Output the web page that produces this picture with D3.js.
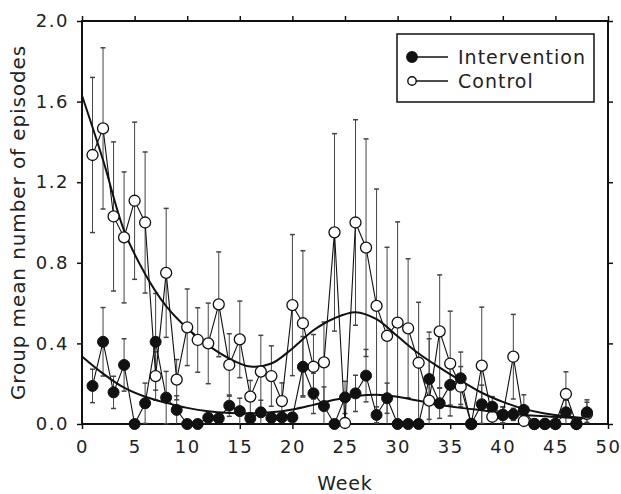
<!DOCTYPE html>
<html>
<head>
<meta charset="utf-8">
<script src="https://cdn.jsdelivr.net/npm/d3@7/dist/d3.min.js"></script>
<style>
  html, body { margin: 0; padding: 0; background: #fff; }
  svg { display: block; }
  text { font-family: "DejaVu Sans", sans-serif; fill: #222; }
</style>
</head>
<body>
<svg id="chart" width="621" height="494"></svg>
<script>
// ---------- data ----------
const weeks = [1,2,3,4,5,6,7,8,9,10,11,12,13,14,15,16,17,18,19,20,21,22,23,24,25,26,27,28,29,30,31,32,33,34,35,36,37,38,39,40,41,42,43,44,45,46,47,48];

const controlMean = [1.335,1.467,1.03,0.926,1.108,1.00,0.238,0.75,0.22,0.48,
                     0.417,0.40,0.594,0.293,0.42,0.136,0.26,0.238,0.114,0.59,
                     0.50,0.284,0.306,0.951,0.005,1.00,0.875,0.586,0.437,0.503,
                     0.475,0.304,0.116,0.46,0.30,0.185,0.0,0.29,0.036,0.045,
                     0.334,0.015,0.0,0.0,0.0,0.149,0.0,0.05];
const controlErr  = [0.385,0.40,0.37,0.325,0.39,0.35,0.12,0.32,0.10,0.19,
                     0.16,0.20,0.26,0.155,0.19,0.08,0.18,0.15,0.09,0.35,
                     0.36,0.16,0.20,0.49,0,0.51,0.54,0.58,0.44,0.50,
                     0.345,0.30,0.34,0.28,0.26,0.10,0,0.29,0.04,0.04,
                     0.21,0,0,0,0,0.11,0,0.07];

const interMean = [0.189,0.408,0.157,0.293,0,0.103,0.408,0.131,0.07,0,
                   0,0.031,0.028,0.091,0.064,0.028,0.058,0.031,0.033,0.033,
                   0.284,0.152,0.089,0,0.132,0.152,0.24,0.045,0.128,0,
                   0,0,0.223,0.103,0.194,0.227,0,0.098,0.086,0.045,
                   0.048,0.07,0,0,0,0.058,0,0.058];
const interErr  = [0.083,0.17,0.08,0.13,0,0.10,0.24,0.13,0.07,0,
                   0,0.02,0.02,0.053,0.064,0.02,0.06,0.02,0.02,0.02,
                   0.15,0.10,0.095,0,0.08,0.09,0.13,0.04,0.075,0,
                   0,0,0.20,0.075,0.10,0.13,0,0.095,0.05,0.04,
                   0.03,0.075,0,0,0,0.06,0,0.05];

// smoothed trend curves
const curveWeeks   = [0,2,4,6,8,10,12,14,16,18,20,22,24,26,28,30,32,34,36,38,40,42,44,46,48];
const controlCurve = [1.63,1.31,0.96,0.745,0.585,0.475,0.39,0.325,0.285,0.30,0.375,0.465,0.525,0.555,0.52,0.435,0.35,0.28,0.215,0.155,0.11,0.075,0.052,0.038,0.028];
const interCurve   = [0.335,0.25,0.18,0.135,0.105,0.08,0.063,0.055,0.053,0.058,0.072,0.095,0.12,0.138,0.145,0.135,0.115,0.095,0.08,0.068,0.055,0.045,0.038,0.032,0.028];

const xTicks = [0,5,10,15,20,25,30,35,40,45,50];
const yTicks = [0.0,0.4,0.8,1.2,1.6,2.0];
const seriesNames = ["Intervention","Control"];

// ---------- layout ----------
const svg = d3.select("#chart");
const L = 82, R = 608, T = 21, B = 424;
const x = d3.scaleLinear().domain([0,50]).range([L,R]);
const y = d3.scaleLinear().domain([0,2]).range([B,T]);

// axes
const fmtY = d3.format(".1f");
const axB = svg.append("g").attr("transform",`translate(0,${B})`)
  .call(d3.axisBottom(x).tickValues(xTicks).tickSize(5).tickPadding(11).tickFormat(d3.format("d")));
const axL = svg.append("g").attr("transform",`translate(${L},0)`)
  .call(d3.axisLeft(y).tickValues(yTicks).tickSize(5).tickPadding(8).tickFormat(fmtY));
const axT = svg.append("g").attr("transform",`translate(0,${T})`)
  .call(d3.axisTop(x).tickValues(xTicks).tickSize(5).tickFormat(""));
const axR = svg.append("g").attr("transform",`translate(${R},0)`)
  .call(d3.axisRight(y).tickValues(yTicks).tickSize(5).tickFormat(""));
[axB,axL,axT,axR].forEach(a => {
  a.select(".domain").remove();
  a.selectAll(".tick line").attr("stroke","#111").attr("stroke-width",1.5);
  a.selectAll("text").attr("font-size",18).attr("letter-spacing","1.5px")
    .attr("font-family","DejaVu Sans, sans-serif").attr("fill","#222");
});

// frame
svg.append("rect").attr("x",L).attr("y",T).attr("width",R-L).attr("height",B-T)
  .attr("fill","none").attr("stroke","#111").attr("stroke-width",2);

const plot = svg.append("g");

function errorBars(mean, err) {
  const g = plot.append("g").attr("stroke","#444").attr("stroke-width",1);
  weeks.forEach((w,i) => {
    if (!err[i]) return;
    const hi = mean[i] + err[i], lo = Math.max(0, mean[i] - err[i]);
    const cx = x(w);
    g.append("line").attr("x1",cx).attr("x2",cx).attr("y1",y(hi)).attr("y2",y(lo));
    g.append("line").attr("x1",cx-2.5).attr("x2",cx+2.5).attr("y1",y(hi)).attr("y2",y(hi)).attr("stroke-width",1.5);
    if (lo > 0) g.append("line").attr("x1",cx-2.5).attr("x2",cx+2.5).attr("y1",y(lo)).attr("y2",y(lo)).attr("stroke-width",1.5);
  });
}
errorBars(controlMean, controlErr);
errorBars(interMean, interErr);

const lineGen = d3.line().x(d => x(d[0])).y(d => y(d[1]));
plot.append("path").datum(weeks.map((w,i)=>[w,controlMean[i]]))
  .attr("d",lineGen).attr("fill","none").attr("stroke","#111").attr("stroke-width",1.1);
plot.append("path").datum(weeks.map((w,i)=>[w,interMean[i]]))
  .attr("d",lineGen).attr("fill","none").attr("stroke","#111").attr("stroke-width",1.1);

const smooth = d3.line().x(d => x(d[0])).y(d => y(d[1])).curve(d3.curveCatmullRom.alpha(0.5));
plot.append("path").datum(curveWeeks.map((w,i)=>[w,controlCurve[i]]))
  .attr("d",smooth).attr("fill","none").attr("stroke","#111").attr("stroke-width",2);
plot.append("path").datum(curveWeeks.map((w,i)=>[w,interCurve[i]]))
  .attr("d",smooth).attr("fill","none").attr("stroke","#111").attr("stroke-width",2);

// markers
plot.append("g").selectAll("circle").data(weeks.map((w,i)=>[w,controlMean[i]])).join("circle")
  .attr("cx",d=>x(d[0])).attr("cy",d=>y(d[1])).attr("r",5.5)
  .attr("fill","#fff").attr("stroke","#111").attr("stroke-width",1.3);
plot.append("g").selectAll("circle").data(weeks.map((w,i)=>[w,interMean[i]])).join("circle")
  .attr("cx",d=>x(d[0])).attr("cy",d=>y(d[1])).attr("r",5.5)
  .attr("fill","#111").attr("stroke","#111").attr("stroke-width",1);

// axis titles
svg.append("text").attr("x",(L+R)/2).attr("y",490).attr("text-anchor","middle")
  .attr("font-size",19).attr("letter-spacing","0.8px").text("Week");
svg.append("text").attr("transform",`translate(25,${(42+403)/2}) rotate(-90)`)
  .attr("text-anchor","middle").attr("font-size",20).attr("letter-spacing","0.9px")
  .text("Group mean number of episodes");

// legend
const lg = svg.append("g");
lg.append("rect").attr("x",397).attr("y",34).attr("width",197).attr("height",68)
  .attr("fill","#fff").attr("stroke","#111").attr("stroke-width",1.5);
const legY = [57, 81];
seriesNames.forEach((name,i) => {
  lg.append("line").attr("x1",412).attr("x2",448).attr("y1",legY[i]).attr("y2",legY[i])
    .attr("stroke","#111").attr("stroke-width",1.5);
  lg.append("circle").attr("cx",412).attr("cy",legY[i]).attr("r", i===0 ? 5.2 : 4.2)
    .attr("fill", i===0 ? "#111" : "#fff").attr("stroke","#111").attr("stroke-width",1.4);
  lg.append("text").attr("x",458).attr("y",legY[i]+7).attr("font-size",19)
    .attr("letter-spacing","1px").text(name);
});
</script>
</body>
</html>
